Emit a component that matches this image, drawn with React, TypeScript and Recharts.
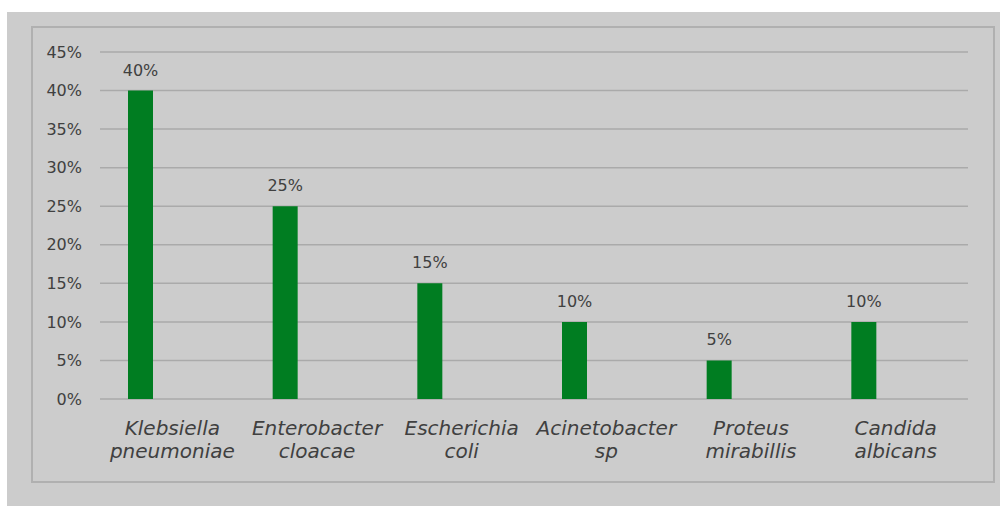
import React from 'react';
import { BarChart, Bar, XAxis, YAxis, CartesianGrid, LabelList } from 'recharts';

const categories = [
  'Klebsiella pneumoniae',
  'Enterobacter cloacae',
  'Escherichia coli',
  'Acinetobacter sp',
  'Proteus mirabillis',
  'Candida albicans',
];
const percentages = [40, 25, 15, 10, 5, 10];
const yTicks = [0, 5, 10, 15, 20, 25, 30, 35, 40, 45];

const data = categories.map((name, i) => ({ name, value: percentages[i] }));

const FONT = '"DejaVu Sans", Verdana, Tahoma, sans-serif';
const TEXT = '#404040';
const GRID = '#aaaaaa';

// two-line italic species names, split at the first space
const CategoryTick = ({ x, y, payload }: any) => {
  const words = String(payload.value).split(' ');
  return (
    <text x={x} y={y} textAnchor="middle" fill={TEXT} fontFamily={FONT} fontSize={20} fontStyle="italic">
      <tspan x={x} dy={36}>{words[0]}</tspan>
      <tspan x={x} dy={23}>{words.slice(1).join(' ')}</tspan>
    </text>
  );
};

const ValueLabel = ({ x, y, width, value }: any) => (
  <text x={x + width / 2} y={y - 15} textAnchor="middle" fill={TEXT} fontFamily={FONT} fontSize={16}>
    {value}%
  </text>
);

export default function App() {
  return (
    <div style={{ position: 'absolute', left: 0, top: 0, width: 1000, height: 506, background: '#fff' }}>
      <div style={{ position: 'absolute', left: 7, top: 12, width: 993, height: 494, background: '#cccccc' }} />
      <div
        style={{
          position: 'absolute',
          left: 31,
          top: 26,
          width: 960,
          height: 453,
          border: '2px solid #b0b0b0',
        }}
      />
      <div style={{ position: 'absolute', left: 0, top: 0 }}>
        <BarChart
          width={1000}
          height={506}
          data={data}
          margin={{ top: 52, right: 32, bottom: 47, left: 20 }}
          barGap={38}
        >
          <CartesianGrid vertical={false} stroke={GRID} strokeWidth={1.5} />
          <XAxis
            dataKey="name"
            height={60}
            axisLine={false}
            tickLine={false}
            tickSize={0}
            tickMargin={0}
            interval={0}
            tick={<CategoryTick />}
          />
          <YAxis
            width={80}
            domain={[0, 45]}
            ticks={yTicks}
            axisLine={false}
            tickLine={false}
            tickSize={0}
            tickMargin={18}
            tickFormatter={(v) => `${v}%`}
            tick={{ fill: TEXT, fontFamily: FONT, fontSize: 16 }}
          />
          <Bar dataKey="value" fill="#007d21" barSize={25} isAnimationActive={false}>
            <LabelList dataKey="value" content={<ValueLabel />} />
          </Bar>
          <Bar dataKey="empty" fill="#007d21" barSize={25} isAnimationActive={false} legendType="none" />
        </BarChart>
      </div>
    </div>
  );
}
